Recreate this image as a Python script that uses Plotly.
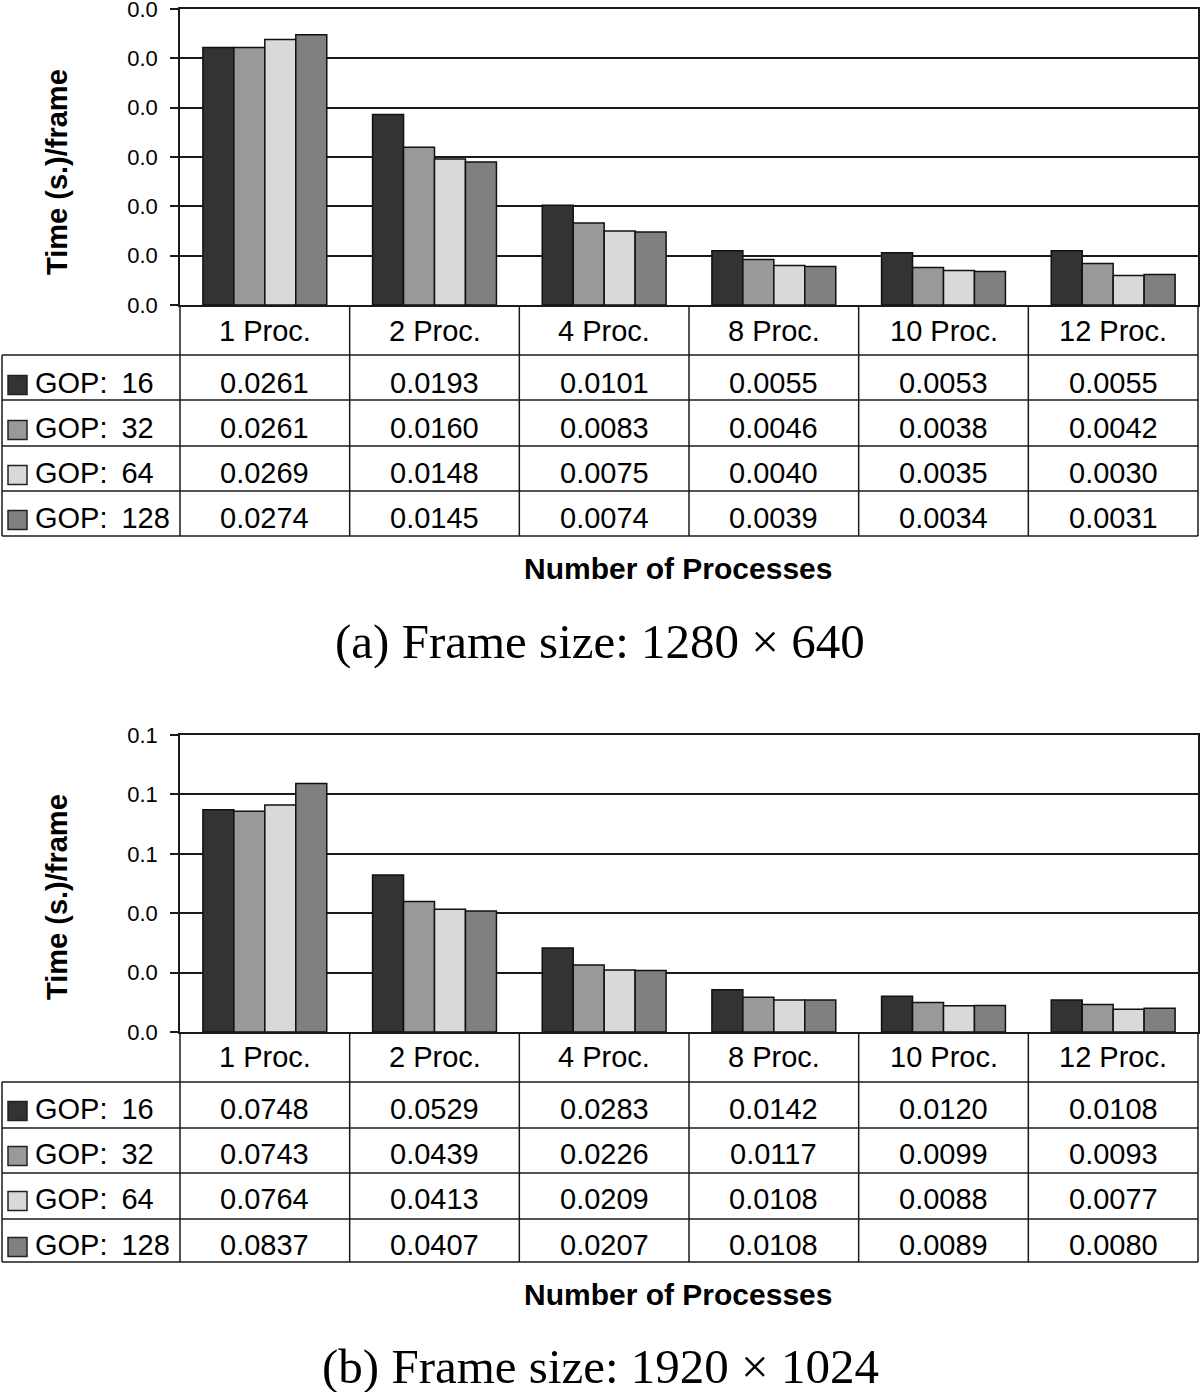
import plotly.graph_objects as go

# ---------------- data ----------------
categories = ["1 Proc.", "2 Proc.", "4 Proc.", "8 Proc.", "10 Proc.", "12 Proc."]
gop_sizes = [16, 32, 64, 128]

# (a) Frame size 1280 x 640
a_gop16 = [0.0261, 0.0193, 0.0101, 0.0055, 0.0053, 0.0055]
a_gop32 = [0.0261, 0.0160, 0.0083, 0.0046, 0.0038, 0.0042]
a_gop64 = [0.0269, 0.0148, 0.0075, 0.0040, 0.0035, 0.0030]
a_gop128 = [0.0274, 0.0145, 0.0074, 0.0039, 0.0034, 0.0031]

# (b) Frame size 1920 x 1024
b_gop16 = [0.0748, 0.0529, 0.0283, 0.0142, 0.0120, 0.0108]
b_gop32 = [0.0743, 0.0439, 0.0226, 0.0117, 0.0099, 0.0093]
b_gop64 = [0.0764, 0.0413, 0.0209, 0.0108, 0.0088, 0.0077]
b_gop128 = [0.0837, 0.0407, 0.0207, 0.0108, 0.0089, 0.0080]

captions = ["(a) Frame size: 1280 \u00d7 640", "(b) Frame size: 1920 \u00d7 1024"]
y_title = "Time (s.)/frame"
x_title = "Number of Processes"

# ---------------- style ----------------
colors = ["#333333", "#999999", "#d9d9d9", "#808080"]
W, H = 1200, 1392
SANS = "Liberation Sans, Arial, sans-serif"
SERIF = "Liberation Serif, Times New Roman, serif"
LINE = "#1a1a1a"


def px(x):
    return x / W


def py(y):
    return 1 - y / H


def gop_label(g):
    return "GOP:\u00a0\u2009" + str(g)


panels = [
    dict(series=[a_gop16, a_gop32, a_gop64, a_gop128], yrange=[0, 0.03], dtick=0.005,
         top=9, bot=305, head=355, rows=[400, 446, 491, 536], head_text=331,
         row_text=[383, 428, 473, 518], xt=568, cap=641, yt=172),
    dict(series=[b_gop16, b_gop32, b_gop64, b_gop128], yrange=[0, 0.1], dtick=0.02,
         top=735, bot=1032, head=1082, rows=[1128, 1173, 1219, 1262], head_text=1057,
         row_text=[1109, 1154, 1199, 1245], xt=1294, cap=1366, yt=897),
]

fig = go.Figure()
shapes = []
annotations = []
X0, X1 = 180, 1198
LEFT = 2

for p_i, p in enumerate(panels):
    xa = "x" if p_i == 0 else "x2"
    ya = "y" if p_i == 0 else "y2"
    for s_i, vals in enumerate(p["series"]):
        fig.add_trace(go.Bar(
            x=categories, y=vals, name=gop_label(gop_sizes[s_i]),
            marker=dict(color=colors[s_i], line=dict(color="#111111", width=1.5)),
            xaxis=xa, yaxis=ya, showlegend=False, hoverinfo="skip",
        ))
        # table row values
        for c_i, cat in enumerate(categories):
            annotations.append(dict(
                x=cat, xref=xa, y=py(p["row_text"][s_i]), yref="paper",
                text=f"{vals[c_i]:.4f}", showarrow=False,
                font=dict(family=SANS, size=29, color="black"),
                xanchor="center", yanchor="middle"))
        # legend label + swatch
        annotations.append(dict(
            x=px(33), xref="paper", y=py(p["row_text"][s_i]), yref="paper",
            text=gop_label(gop_sizes[s_i]), showarrow=False,
            font=dict(family=SANS, size=29, color="black"),
            xanchor="left", yanchor="middle"))
        cy = p["row_text"][s_i] + 2
        shapes.append(dict(type="rect", xref="paper", yref="paper",
                           x0=px(8), x1=px(27), y0=py(cy - 9.5), y1=py(cy + 9.5),
                           fillcolor=colors[s_i], line=dict(color="#222222", width=1.5)))
    # header labels
    for cat in categories:
        annotations.append(dict(
            x=cat, xref=xa, y=py(p["head_text"]), yref="paper", text=cat,
            showarrow=False, font=dict(family=SANS, size=29, color="black"),
            xanchor="center", yanchor="middle"))
    # table lines
    for yy in [p["head"]] + p["rows"]:
        shapes.append(dict(type="line", xref="paper", yref="paper",
                           x0=px(LEFT), x1=px(X1), y0=py(yy), y1=py(yy),
                           line=dict(color=LINE, width=1.5)))
    n = len(categories)
    for i in range(n + 1):
        shapes.append(dict(type="line", xref=xa + " domain", yref="paper",
                           x0=i / n, x1=i / n, y0=py(p["bot"]), y1=py(p["rows"][-1]),
                           line=dict(color=LINE, width=1.5)))
    shapes.append(dict(type="line", xref="paper", yref="paper",
                       x0=px(LEFT), x1=px(LEFT), y0=py(p["head"]), y1=py(p["rows"][-1]),
                       line=dict(color=LINE, width=1.5)))
    # titles
    annotations.append(dict(
        x=px(57), xref="paper", y=py(p["yt"]), yref="paper", text=f"<b>{y_title}</b>",
        textangle=-90, showarrow=False, font=dict(family=SANS, size=29, color="black"),
        xanchor="center", yanchor="middle"))
    annotations.append(dict(
        x=px(678), xref="paper", y=py(p["xt"]), yref="paper", text=f"<b>{x_title}</b>",
        showarrow=False, font=dict(family=SANS, size=30, color="black"),
        xanchor="center", yanchor="middle"))
    annotations.append(dict(
        x=px(600), xref="paper", y=py(p["cap"]), yref="paper", text=captions[p_i],
        showarrow=False, font=dict(family=SERIF, size=49, color="black"),
        xanchor="center", yanchor="middle"))

axis_common_x = dict(domain=[px(X0), px(X1)], showticklabels=False, ticks="",
                     showline=True, linecolor=LINE, linewidth=1.5, mirror=True,
                     showgrid=False, zeroline=False, fixedrange=True, automargin=False)


def yaxis(p):
    return dict(domain=[py(p["bot"]), py(p["top"])], range=p["yrange"], dtick=p["dtick"],
                tick0=0, tickformat=".1f", ticks="outside", ticklen=8, tickwidth=1.5,
                tickcolor=LINE, showline=True, linecolor=LINE, linewidth=1.5, mirror=True,
                showgrid=True, gridcolor=LINE, gridwidth=1.5, zeroline=False,
                tickfont=dict(family=SANS, size=22, color="black"), ticklabelstandoff=8,
                ticklabeloverflow="allow", fixedrange=True, automargin=False)


fig.update_layout(
    width=W, height=H, margin=dict(l=0, r=0, t=0, b=0, autoexpand=False),
    paper_bgcolor="white", plot_bgcolor="white",
    barmode="group", bargap=0.27, bargroupgap=0,
    xaxis=dict(axis_common_x, anchor="y"),
    yaxis=dict(yaxis(panels[0]), anchor="x"),
    xaxis2=dict(axis_common_x, anchor="y2"),
    yaxis2=dict(yaxis(panels[1]), anchor="x2"),
    shapes=shapes, annotations=annotations, showlegend=False,
)

fig.write_html("out.html", config={"displayModeBar": False},
               post_script="document.body.style.margin='0px';")
